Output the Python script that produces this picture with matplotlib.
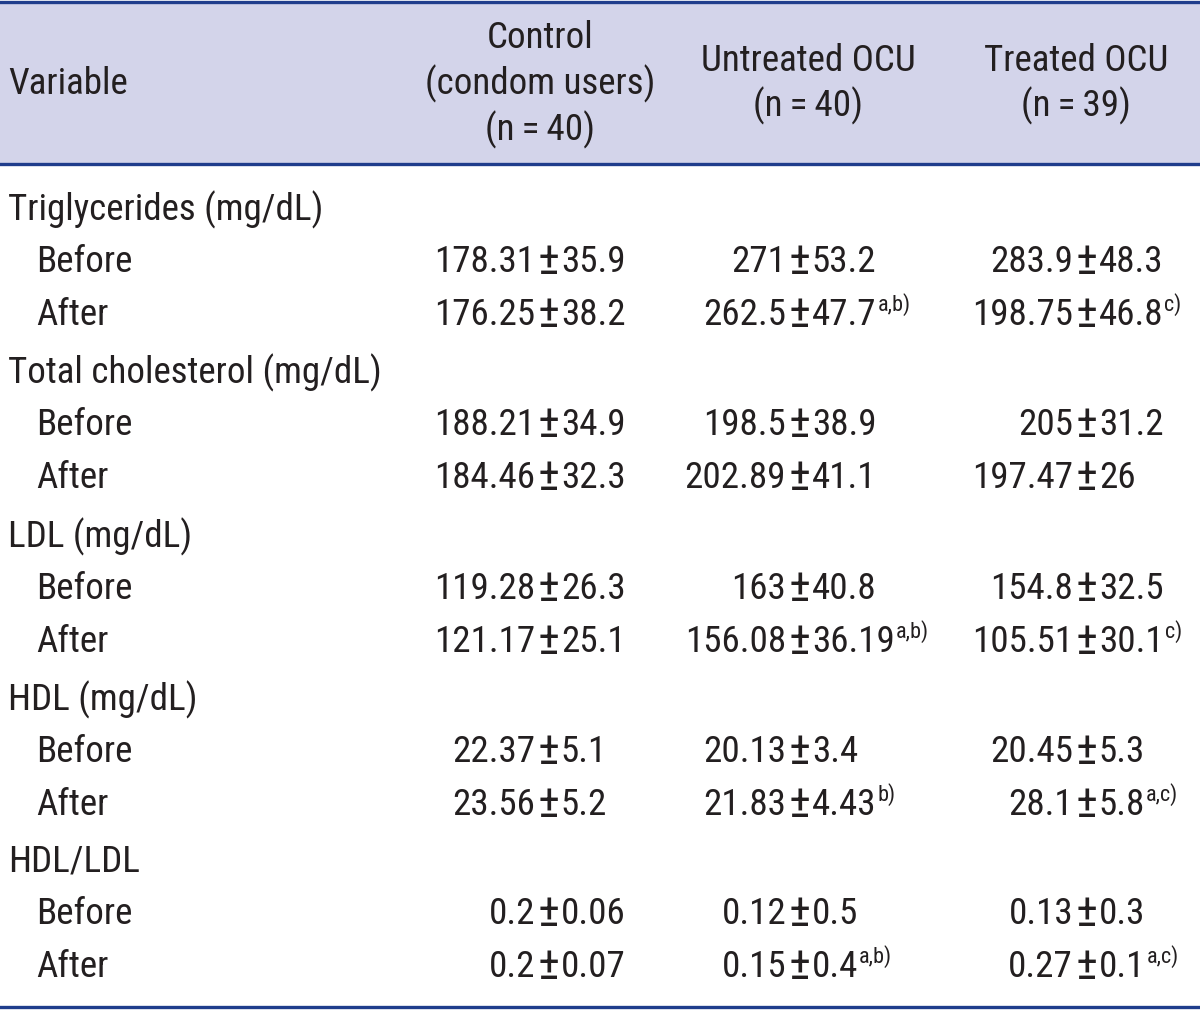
import matplotlib
matplotlib.use("Agg")
import matplotlib.pyplot as plt
from matplotlib import font_manager

# narrow sans face if available, DejaVu otherwise
names = {f.name for f in font_manager.fontManager.ttflist}
candidates = ["Roboto Condensed", "PT Sans Narrow", "Fira Sans Extra Condensed",
              "Fira Sans Condensed", "Archivo Narrow", "Liberation Sans Narrow"]
FONT = next((c for c in candidates if c in names), "DejaVu Sans")
FAMILY = [FONT, "DejaVu Sans"]

# ---- table content ----
col_headers = [["Control", "(condom users)", "(n\u2009=\u200940)"],
               ["Untreated OCU", "(n\u2009=\u200940)"],
               ["Treated OCU", "(n\u2009=\u200939)"]]
variables = ["Triglycerides (mg/dL)", "Total cholesterol (mg/dL)", "LDL (mg/dL)", "HDL (mg/dL)", "HDL/LDL"]
timepoints = ["Before", "After"]

control = ["178.31±35.9", "176.25±38.2", "188.21±34.9", "184.46±32.3", "119.28±26.3",
           "121.17±25.1", "22.37±5.1", "23.56±5.2", "0.2±0.06", "0.2±0.07"]
control_sup = ["", "", "", "", "", "", "", "", "", ""]
untreated = ["271±53.2", "262.5±47.7", "198.5±38.9", "202.89±41.1", "163±40.8",
             "156.08±36.19", "20.13±3.4", "21.83±4.43", "0.12±0.5", "0.15±0.4"]
untreated_sup = ["", "a,b)", "", "", "", "a,b)", "", "b)", "", "a,b)"]
treated = ["283.9±48.3", "198.75±46.8", "205±31.2", "197.47±26", "154.8±32.5",
           "105.51±30.1", "20.45±5.3", "28.1±5.8", "0.13±0.3", "0.27±0.1"]
treated_sup = ["", "c)", "", "", "", "c)", "", "a,c)", "", "a,c)"]

# ---- layout (pixel space, y down) ----
W, H = 1200, 1010
TXT = "#231f20"
LINE = "#1f3d8c"
HEAD_BG = "#d3d4ea"
pm_x = [548, 799, 1086]      # centre of the ± sign in each column
head_x = [540, 808, 1076]
group_y = [210, 373, 537, 700, 862]
row_dy = [52, 105]

fig = plt.figure(figsize=(W / 100, H / 100), dpi=100)
ax = fig.add_axes([0, 0, 1, 1])
ax.set_xlim(0, W)
ax.set_ylim(H, 0)
ax.axis("off")
r = fig.canvas.get_renderer()


def measure(s, fs):
    t = ax.text(0, 0, s, fontsize=fs, family=FAMILY)
    bb = t.get_window_extent(renderer=r)
    t.remove()
    return bb.width, bb.height


# fit font size: widest label ~390 px, text not much taller than the original
FS = min(20 * 390 / measure("Total cholesterol (mg/dL)", 20)[0],
         20 * 240 / measure("Untreated OCU", 20)[0],
         20 * 36 / measure("0123456789", 20)[1])
PM_FS = FS * 1.25   # the original ± is nearly as tall as the digits

ax.axhspan(2, 164, color=HEAD_BG, lw=0)
for y in (2, 164, 1007):
    ax.axhline(y, color=LINE, lw=2.4)

kw = dict(fontsize=FS, color=TXT, family=FAMILY, va="center")
ax.text(8, 84, "Variable", ha="left", **kw)
for line, y in zip(col_headers[0], [38, 84, 130]):
    ax.text(head_x[0], y, line, ha="center", **kw)
for c in (1, 2):
    for line, y in zip(col_headers[c], [61, 106]):
        ax.text(head_x[c], y, line, ha="center", **kw)

w_pm = measure("±", PM_FS)[0]
gap = 2
cols = [(control, control_sup), (untreated, untreated_sup), (treated, treated_sup)]
for g, var in enumerate(variables):
    ax.text(8, group_y[g], var, ha="left", **kw)
    for k, tp in enumerate(timepoints):
        y = group_y[g] + row_dy[k]
        ax.text(36, y, tp, ha="left", **kw)
        idx = 2 * g + k
        for c, (vals, sups) in enumerate(cols):
            left, right = vals[idx].split("±")
            ax.text(pm_x[c] - w_pm / 2 - gap, y, left, ha="right", **kw)
            ax.text(pm_x[c], y - 1, "±", ha="center", fontsize=PM_FS, color=TXT,
                    family=FAMILY, va="center")
            xr = pm_x[c] + w_pm / 2 + gap
            ax.text(xr, y, right, ha="left", **kw)
            if sups[idx]:
                x1 = xr + measure(right, FS)[0]
                ax.text(x1 + 1, y - 10, sups[idx], ha="left", fontsize=FS * 0.6,
                        color=TXT, family=FAMILY, va="center")

fig.savefig("out.png", dpi=100)
